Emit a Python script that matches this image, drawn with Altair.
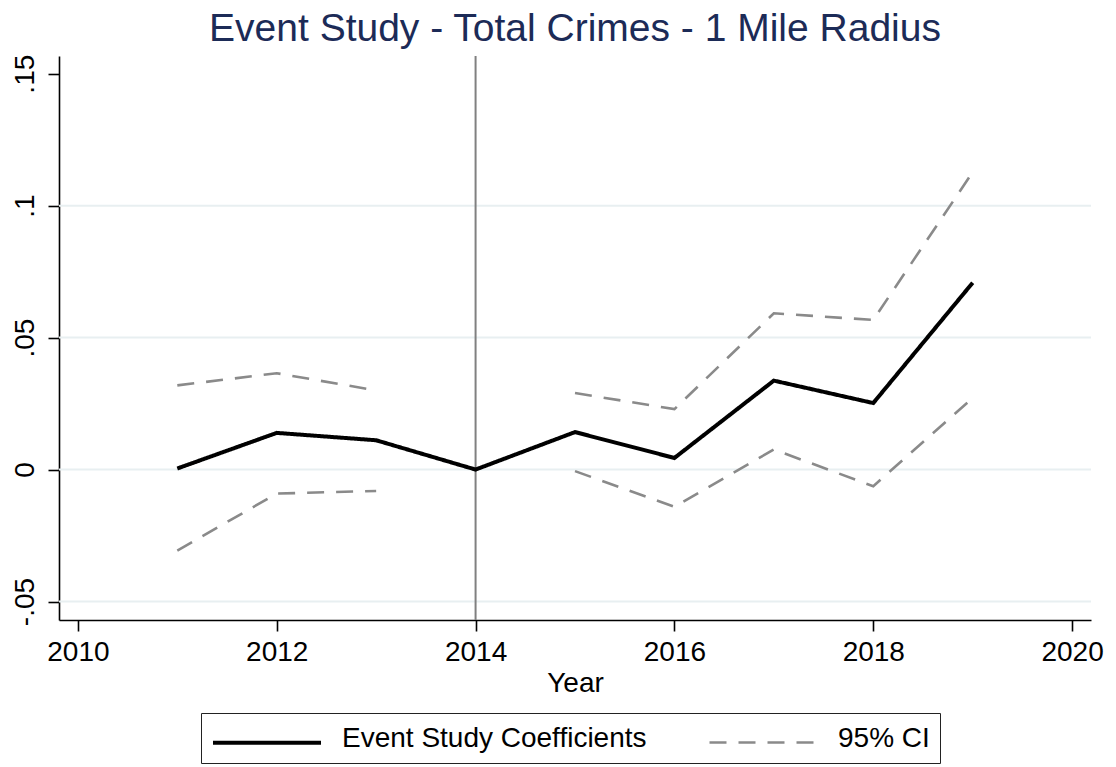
import altair as alt
import pandas as pd

# Event-study estimates, 2014 is the reference year (no confidence interval)
years = [2011, 2012, 2013, 2014, 2015, 2016, 2017, 2018, 2019]
coef = [0.0004, 0.0139, 0.0111, 0.0, 0.0142, 0.0044, 0.0337, 0.0252, 0.0708]
ci_low = [-0.0307, -0.0091, -0.0081, None, -0.0006, -0.0141, 0.0076, -0.0063, 0.0271]
ci_high = [0.0319, 0.0365, 0.0300, None, 0.0290, 0.0229, 0.0592, 0.0567, 0.1127]

event_year = [2014]
x_ticks = [2010, 2012, 2014, 2016, 2018, 2020]
y_ticks = [-0.05, 0, 0.05, 0.10, 0.15]
y_grid = [-0.05, 0, 0.05, 0.10]

series_names = ["Event Study Coefficients", "95% CI"]
FONT = "Liberation Sans"

# long table: one row per point, path id splits the CI at the reference year
rows = []
for yr, c, lo, hi in zip(years, coef, ci_low, ci_high):
    rows.append({"year": yr, "value": c, "series": series_names[0], "path": "coef"})
    period = "pre" if yr < event_year[0] else "post"
    if lo is not None:
        rows.append({"year": yr, "value": lo, "series": series_names[1], "path": "lo_" + period})
    if hi is not None:
        rows.append({"year": yr, "value": hi, "series": series_names[1], "path": "hi_" + period})
lines_df = pd.DataFrame(rows)

x_scale = alt.Scale(domain=[2009.81, 2020.19], nice=False, zero=False)
y_scale = alt.Scale(domain=[-0.057, 0.1567], nice=False, zero=False)

x_axis = alt.Axis(
    title="Year",
    values=x_ticks,
    format="d",
    grid=False,
    domainColor="black",
    domainWidth=1.6,
    tickColor="black",
    tickWidth=1.6,
    tickSize=11,
    labelFont=FONT,
    labelFontSize=28,
    labelColor="black",
    labelBaseline="alphabetic",
    labelPadding=29,
    labelFlush=False,
    labelOverlap=False,
    titleFont=FONT,
    titleFontSize=28,
    titleFontWeight="normal",
    titleColor="black",
    titleBaseline="alphabetic",
    titlePadding=25,
)

y_axis = alt.Axis(
    title=None,
    values=y_ticks,
    labelExpr="datum.value == 0 ? '0' : (datum.value < 0 ? '-' : '') + replace(format(abs(datum.value), '.2~f'), '0.', '.')",
    grid=False,
    domainColor="black",
    domainWidth=1.6,
    tickColor="black",
    tickWidth=1.6,
    tickSize=11,
    labelFont=FONT,
    labelFontSize=28,
    labelColor="black",
    labelAngle=270,
    labelAlign="center",
    labelBaseline="alphabetic",
    labelPadding=15,
    labelFlush=False,
    labelOverlap=False,
)

grid = alt.Chart(pd.DataFrame({"g": y_grid})).mark_rule(
    color="#e8eff1", strokeWidth=2
).encode(y=alt.Y("g:Q", scale=y_scale, axis=y_axis))

vline = alt.Chart(pd.DataFrame({"e": event_year})).mark_rule(
    color="#808080", strokeWidth=2
).encode(x=alt.X("e:Q", scale=x_scale, axis=x_axis))

legend_def = alt.Legend(
    title=None,
    orient="none",
    legendX=142,
    legendY=657,
    direction="horizontal",
)

lines = alt.Chart(lines_df).mark_line(strokeCap="butt", strokeJoin="miter").encode(
    x=alt.X("year:Q", scale=x_scale, axis=x_axis),
    y=alt.Y("value:Q", scale=y_scale, axis=y_axis),
    detail="path:N",
    color=alt.Color(
        "series:N",
        scale=alt.Scale(domain=series_names, range=["#000000", "#8a8a8a"]),
        legend=legend_def,
    ),
    strokeDash=alt.StrokeDash(
        "series:N",
        scale=alt.Scale(domain=series_names, range=[[1, 0], [17, 12]]),
        legend=legend_def,
    ),
    strokeWidth=alt.StrokeWidth(
        "series:N",
        scale=alt.Scale(domain=series_names, range=[4, 2.6]),
        legend=legend_def,
    ),
)

chart = (
    alt.layer(grid, vline, lines)
    .properties(
        width=1032,
        height=564,
        autosize=alt.AutoSizeParams(type="none"),
        padding={"left": 59, "top": 56, "right": 25, "bottom": 147},
        title=alt.TitleParams(
            "Event Study - Total Crimes - 1 Mile Radius",
            font=FONT,
            fontSize=39,
            fontWeight="normal",
            color="#1c2b57",
            anchor="middle",
            offset=5,
        ),
    )
    .configure_view(stroke=None)
    .configure_legend(
        strokeColor="#222222",
        fillColor="white",
        padding=10,
        labelFont=FONT,
        labelFontSize=28,
        labelColor="black",
        labelLimit=0,
        symbolType="M-1,0.3H7",
        symbolSize=729,
        labelOffset=100,
        columnPadding=57,
        cornerRadius=0,
    )
)

chart.save("out.html", embed_options={"renderer": "svg", "actions": False})
